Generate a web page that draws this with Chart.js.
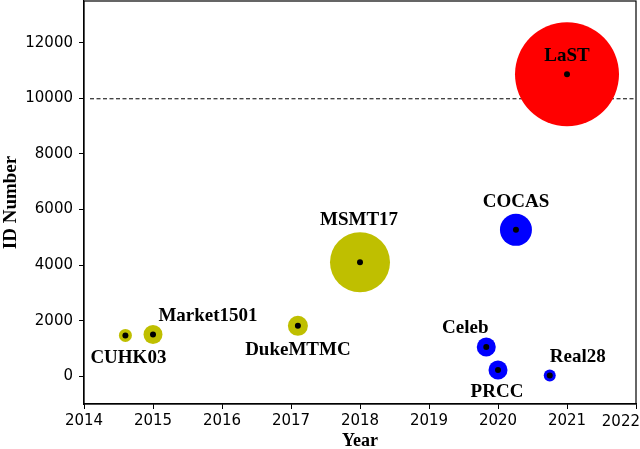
<!DOCTYPE html>
<html>
<head>
<meta charset="utf-8">
<script src="https://cdn.jsdelivr.net/npm/chart.js@4"></script>
<style>
  html, body { margin: 0; padding: 0; background: #fff; }
  #wrap { width: 640px; height: 449px; }
</style>
</head>
<body>
<div id="wrap"><canvas id="c" width="640" height="449"></canvas></div>
<script>
// datasets
const names    = ['CUHK03', 'Market1501', 'DukeMTMC', 'MSMT17', 'COCAS', 'Celeb', 'PRCC', 'Real28', 'LaST'];
const years    = [2014.6, 2015.0, 2017.1, 2018.0, 2020.26, 2019.83, 2020.0, 2020.75, 2021.0];
const idCounts = [1467, 1501, 1812, 4101, 5266, 1052, 221, 28, 10862];
const bubbleR  = [6.5, 9.5, 10, 30, 16, 9.5, 9.5, 6, 52];
const groups   = ['old', 'old', 'old', 'old', 'cc', 'cc', 'cc', 'cc', 'last'];
const yTicks   = [0, 2000, 4000, 6000, 8000, 10000, 12000];
const xMin = 2014, xMax = 2022;
const threshold = 10000;

const groupColor = { old: '#bfbf00', cc: '#0000ff', last: '#ff0000' };
// label offset from the point, in px
const labelOffset = {
  CUHK03: [3, 23], Market1501: [55, -18], DukeMTMC: [0, 24], MSMT17: [-1, -42],
  COCAS: [0, -28], Celeb: [-21, -19], PRCC: [-1, 22], Real28: [28, -18], LaST: [0, -18]
};

const pts = names.map((n, i) => ({ x: years[i], y: idCounts[i], r: bubbleR[i] }));

// fixed axis sizes, no label overflow padding
const fitTo = (w, h) => s => {
  if (w) s.width = w;
  if (h) s.height = h;
  s.paddingTop = s.paddingBottom = s.paddingLeft = s.paddingRight = 0;
};

const overlay = {
  id: 'overlay',
  beforeDatasetsDraw(chart) {
    const { ctx, chartArea: a, scales } = chart;
    const y = scales.y.getPixelForValue(threshold);
    ctx.save();
    ctx.strokeStyle = '#000';
    ctx.lineWidth = 1;
    ctx.setLineDash([4, 2.5]);
    ctx.beginPath();
    ctx.moveTo(a.left + 6, y + 0.5);
    ctx.lineTo(a.right, y + 0.5);
    ctx.stroke();
    ctx.restore();
  },
  afterDraw(chart) {
    const { ctx, chartArea: a, scales } = chart;
    ctx.save();
    ctx.strokeStyle = '#000';
    ctx.lineWidth = 1.2;
    ctx.strokeRect(a.left, a.top, a.right - a.left, a.bottom - a.top);
    ctx.fillStyle = '#000';
    // last year label sits pulled in from the edge
    ctx.font = '15px "DejaVu Sans"';
    ctx.textAlign = 'right';
    ctx.textBaseline = 'middle';
    ctx.fillText(String(xMax), 640, a.bottom + 18);
    ctx.font = 'bold 19px "Liberation Serif", "Times New Roman", serif';
    ctx.textAlign = 'center';
    names.forEach((n, i) => {
      const px = scales.x.getPixelForValue(years[i]);
      const py = scales.y.getPixelForValue(idCounts[i]);
      const o = labelOffset[n];
      ctx.fillText(n, px + o[0], py + o[1]);
    });
    ctx.restore();
  }
};

new Chart(document.getElementById('c'), {
  type: 'bubble',
  data: {
    datasets: [
      {
        data: pts,
        order: 1,
        backgroundColor: groups.map(g => groupColor[g]),
        borderWidth: 0,
        hoverBorderWidth: 0
      },
      {
        data: pts.map(p => ({ x: p.x, y: p.y, r: 3 })),
        order: 0,
        backgroundColor: '#000',
        borderWidth: 0
      }
    ]
  },
  options: {
    responsive: false,
    animation: false,
    events: [],
    layout: { autoPadding: false, padding: { left: 0, right: 4, top: 1, bottom: 0 } },
    plugins: { legend: { display: false }, tooltip: { enabled: false } },
    scales: {
      x: {
        type: 'linear', min: xMin, max: xMax,
        afterFit: fitTo(0, 45),
        ticks: {
          stepSize: 1, color: '#000', padding: 3,
          font: { family: '"DejaVu Sans"', size: 15 },
          callback: v => (v === xMax ? '' : String(v))
        },
        grid: { drawOnChartArea: false, tickLength: 5, color: '#000', tickWidth: 1 },
        border: { display: true, color: '#000', width: 1.2 },
        title: {
          display: true, text: 'Year', color: '#000', padding: 0,
          font: { family: '"Liberation Serif"', size: 18, weight: 'bold', lineHeight: 0.8 }
        }
      },
      y: {
        type: 'linear', min: -1000, max: 13500,
        afterFit: fitTo(84, 0),
        afterBuildTicks: s => { s.ticks = yTicks.map(v => ({ value: v })); },
        ticks: {
          color: '#000', padding: 6,
          font: { family: '"DejaVu Sans"', size: 15 },
          callback: v => String(v)
        },
        grid: { drawOnChartArea: false, tickLength: 5, color: '#000', tickWidth: 1 },
        border: { display: true, color: '#000', width: 1.2 },
        title: {
          display: true, text: 'ID Number', color: '#000', padding: 0,
          font: { family: '"Liberation Serif"', size: 19, weight: 'bold', lineHeight: 1.2 }
        }
      }
    }
  },
  plugins: [overlay]
});
</script>
</body>
</html>
